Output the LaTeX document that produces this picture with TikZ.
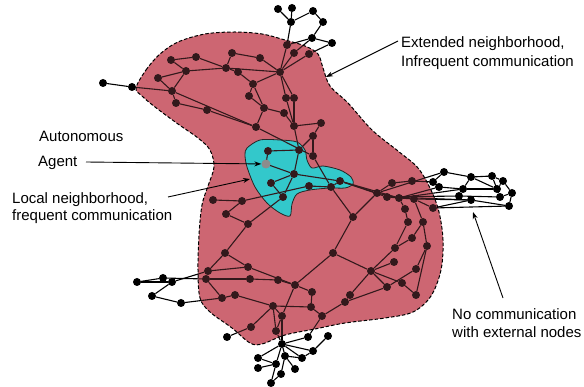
\documentclass[tikz,border=0pt]{standalone}
\usepackage{fontspec}
\setmainfont{Liberation Sans}
\usetikzlibrary{arrows.meta}
\definecolor{pinkc}{RGB}{205,102,114}
\definecolor{cyanc}{RGB}{0,233,234}
\definecolor{agentc}{RGB}{140,140,140}
\begin{document}
\begin{tikzpicture}[x=1pt,y=-1pt,
  dot/.style={circle,fill=black,inner sep=0pt,minimum size=8pt},
  edge/.style={line width=1.1pt},
  lbl/.style={anchor=base west,inner sep=0pt,font=\fontsize{15}{18}\selectfont},
  ann/.style={line width=0.9pt,-{Stealth[length=7pt,width=5pt]}},
  pinkshape/.style={insert path={plot[smooth cycle,tension=0.55] coordinates{
    (136,88) (146,70) (160,54) (178,42) (205,34) (235,32) (262,34) (285,40)
    (305,46) (318,54) (323,68) (330,86) (348,103) (372,130) (398,151) (418,168)
    (431,190) (439,212) (443,240) (441,270) (431,296) (413,312) (385,318)
    (345,323) (315,329) (285,335) (262,344) (250,343) (232,328) (210,312)
    (200,298) (198,270) (199,235) (202,205) (208,186) (214,167) (210,150)
    (198,138) (178,124) (155,107) (142,96)}}},
  cyanshape/.style={insert path={plot[smooth cycle,tension=0.5] coordinates{
    (247,148) (260,140) (280,140) (297,142) (305,150) (307,160) (312,168)
    (323,166) (340,170) (351,177) (353,184) (345,188) (330,188) (310,190)
    (297,194) (292,204) (290,216) (280,213) (267,203) (255,187) (247,167)
    (245,155)}}}
]
\useasboundingbox (0,0) rectangle (584,387);
% regions (solid)
\fill[pinkc, pinkshape];
\fill[cyanc, cyanshape];
% graph nodes
\foreach \n/\x/\y in {
  t1/278/9, t2/292/8, t3/291/22, t4/313/11, t5/323/22, t6/312/38, t7/332/43,
  t8/287/45, t9/294/53, t10/309/54,
  a1/103/83, a2/132/87, a3/171/60, a4/196/57, a5/232/53, a6/260/58, a7/186/71,
  a8/226/68, a9/238/72, h1/280/72, a10/158/78, a11/253/84, a12/172/91,
  a13/249/96, a14/176/103, a15/207/110, a16/286/98, a17/294/98, a18/264/108,
  a19/284/113, a20/256/127, h2/294/126, a21/321/123, a22/313/136,
  c1/268/151, c2/299/150, c3/313/156, ag/266/164, c4/294/174, c5/271/183,
  c6/283/197, c7/309/186, c8/331/187, c9/340/181,
  m1/213/200, m2/242/201, m3/226/214, m4/248/224, m5/225/253, m6/353/217,
  m7/333/253,
  e1/377/193, e2/392/183, e3/412/181, e4/387/197, e5/399/198, e6/414/199,
  e7/405/209, e8/433/208, e9/408/222, e10/423/222, e11/412/238, e12/427/246,
  e13/395/248, e14/433/182,
  x1/444/172, x2/471/177, x3/492/176, x4/503/181, x5/512/193, x6/509/206,
  x7/500/197, x8/497/189, x9/471/200, x10/459/196, x11/463/189, x12/439/187,
  s1/248/267, s2/208/271, s3/206/279, s4/250/279, s5/278/280, s6/295/285,
  s7/312/292, s8/222/298, s9/235/295, s10/273/306, s11/282/316, s12/311/307,
  s13/276/331, s14/251/327, s15/322/316, s16/371/271, s17/394/262,
  s18/402/283, s19/387/287, s20/416/295, s21/416/269, s22/350/295, s23/345/302,
  l1/137/282, l2/163/278, l3/172/282, l4/152/296, l5/181/303, l6/227/337,
  b1/282/344, b2/308/337, b3/328/336, b4/313/351, b5/302/358, b6/285/356,
  b7/295/369, b8/281/374, b9/271/383, b10/276/364, b11/258/358, b12/258/368}
  \node[dot] (\n) at (\x,\y) {};
% graph edges
\foreach \a/\b in {
  t1/t3, t2/t3, t3/t4, t4/t5, t5/t6, t6/t7, t3/t8, t8/t6, t9/t6, t10/t7,
  h1/t8, h1/t9, h1/t10,
  a1/a2, a2/a12, a3/a4, a4/a8, a3/a7, a7/a10, a10/a12, a7/a12, a7/a8, a8/h1,
  a5/a8, a5/a6, a6/h1, a8/a9, a9/a11, a11/h1, a11/a13, a13/a18, a11/a18,
  a12/a14, a14/a15, a15/a20, a12/a20, a18/a19, a18/a20, a19/h2, h1/a16,
  h1/a17, a16/h2, a17/h2, h2/a21, a21/a22, a22/c2, h2/c2, a20/c3,
  c1/c2, c1/ag, ag/c4, c2/c4, c4/c5, c5/c6, c4/c6, c4/c9, c3/a22, c3/c8,
  c8/m6, m2/c7, c7/c8, c8/c9, m1/m2, m2/m3, m3/m4, m4/c6, m4/m5,
  c9/e1, c9/e4, c9/e5, m6/e1, m6/m7, m7/s6, m7/s16, m5/s2, m5/s1,
  e1/e2, e2/e3, e3/e14, e1/e5, e4/e5, e5/e6, e5/e7, e7/e9, e9/e13, e6/e10,
  e10/e12, e11/e10, e6/e8, e13/e11, e13/s16, s17/s16, e12/s21, s21/s19,
  s16/s18, s18/s20, s16/s19, s16/s22, s22/s23, s23/s15, s15/s12, s12/s10,
  s19/s23, s20/e12,
  s1/s6, s2/s1, s2/s3, s3/s4, s4/s5, s5/s6, s3/s8, s8/s9, s9/s10, s10/s11,
  s11/s13, s10/s13, s6/s11, s6/s7, s7/s12, s14/l6, s14/s10, s13/b1,
  s11/b1, s15/b2, b3/b4, b2/b1,
  b1/b6, b1/b10, b1/b11, b1/b5, b1/b4, b6/b7, b6/b8, b6/b5, b10/b12,
  b11/b10, b8/b9, b10/b9, b4/b5,
  l1/l3, l3/s2, l1/l2, l2/s3, l3/l4, l4/l5, l5/s8,
  e14/x1, x1/x2, x2/x3, x3/x4, x4/x5, x5/x6, x6/x9, x9/e8, e14/x12,
  x12/x11, x11/x8, x8/x4, x10/x7, x7/x5, x2/x11, x2/x8, x3/x7,
  e4/x10, e5/x12, e6/x9, e1/x1, e8/x6, e4/x9, e5/x11}
  \draw[edge] (\a) -- (\b);
% tint overlay and outlines
\fill[pinkc, fill opacity=0.25, pinkshape];
\draw[line width=1pt, dash pattern=on 3.5pt off 2pt, pinkshape];
\draw[line width=0.8pt, black!85, cyanshape];
% autonomous agent
\node[dot, fill=agentc, minimum size=9pt] (agtop) at (ag) {};
% labels
\node[lbl] (lauto) at (39,142) {Autonomous};
\node[lbl] (lagent) at (38,167) {Agent};
\node[lbl] (lloc1) at (12,204) {Local neighborhood,};
\node[lbl] (lloc2) at (12,221) {frequent communication};
\node[lbl] (lext1) at (401,48) {Extended neighborhood,};
\node[lbl] (lext2) at (401,67) {Infrequent communication};
\node[lbl] (lno1) at (452,320) {No communication};
\node[lbl] (lno2) at (452,338) {with external nodes};
% annotation arrows
\coordinate (agS) at (86,162);
\coordinate (locS) at (168,197);
\coordinate (locT) at (250,179);
\coordinate (extS) at (398,41);
\coordinate (extT) at (326,77);
\coordinate (noS) at (503,298);
\coordinate (noT) at (473,212);
\draw[ann] (agS) -- (agtop);
\draw[ann] (locS) -- (locT);
\draw[ann] (extS) -- (extT);
\draw[ann] (noS) -- (noT);
\end{tikzpicture}
\end{document}
